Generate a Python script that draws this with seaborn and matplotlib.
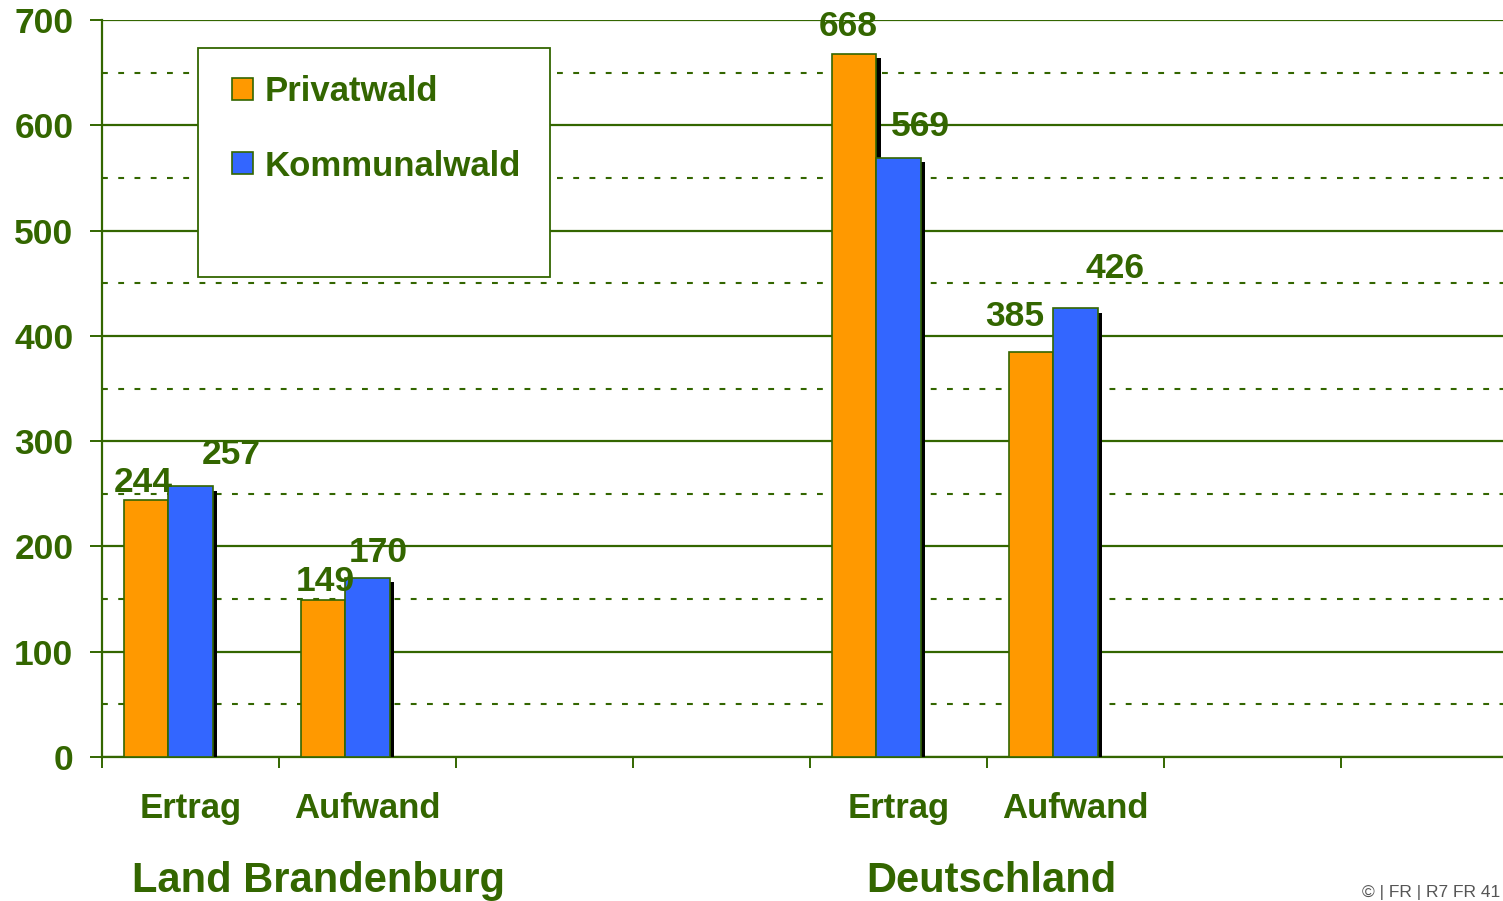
import pandas as pd
import numpy as np
import seaborn as sns
from matplotlib import pyplot as plt
from matplotlib import patheffects as pe
from matplotlib.patches import Patch, Rectangle
from matplotlib.ticker import MultipleLocator, FixedLocator

# slots on the x axis (Excel style, some left empty)
slots = ["LB_Ertrag", "LB_Aufwand", "e1", "e2", "DE_Ertrag", "DE_Aufwand", "e3", "e4"]
slot_labels = ["Ertrag", "Aufwand", "", "", "Ertrag", "Aufwand", "", ""]
series = ["Privatwald", "Kommunalwald", "Reihe3"]
privatwald = [244, 149, 668, 385]
kommunalwald = [257, 170, 569, 426]
filled = ["LB_Ertrag", "LB_Aufwand", "DE_Ertrag", "DE_Aufwand"]
groups = ["Land Brandenburg", "Deutschland"]
copyright_txt = "\u00a9 | FR | R7 FR 41"

green = "#336600"
colors = ["#FF9900", "#3366FF", "#999999"]

rows = []
for c, p, k in zip(filled, privatwald, kommunalwald):
    rows.append((c, "Privatwald", p))
    rows.append((c, "Kommunalwald", k))
    rows.append((c, "Reihe3", np.nan))
df = pd.DataFrame(rows, columns=["slot", "reihe", "wert"])

sns.set_style("white")
plt.rcParams["font.family"] = ["Liberation Sans", "DejaVu Sans"]
plt.rcParams["font.weight"] = "bold"

fig = plt.figure(figsize=(15.03, 9.01), dpi=100)
ax = fig.add_axes([102 / 1503, 1 - 757 / 901, 1 - 102 / 1503, 737 / 901])

sns.barplot(df, x="slot", y="wert", hue="reihe", order=slots, hue_order=series,
            palette=colors, width=0.75, saturation=1, legend=False, ax=ax,
            edgecolor=green, linewidth=1.2, errorbar=None)

shadow = [pe.SimplePatchShadow(offset=(3, -3), shadow_rgbFace="black", alpha=1.0), pe.Normal()]
for bar in ax.patches:
    bar.set_path_effects(shadow)
    bar.set_zorder(3)

# data labels, hand-nudged like in the original
lab_vals = [244, 149, 668, 385, 257, 170, 569, 426]
lab_dx = [-3, 2, -6, -17, 41, 11, 22, 40]
lab_dy = [8, 9, 18, 26, 22, 16, 22, 30]
bars = [b for b in ax.patches if b.get_height() > 0 and np.isfinite(b.get_height())]
for b, v, dx, dy in zip(bars, lab_vals, lab_dx, lab_dy):
    ax.annotate(str(v), (b.get_x() + b.get_width() / 2, b.get_height()),
                xytext=(dx, dy), textcoords="offset pixels", ha="center", va="baseline",
                fontsize=25.5, fontweight="bold", color=green, zorder=5)

ax.set_ylim(0, 700)
ax.set_xlim(-0.5, -0.5 + 1401 / 177)
ax.yaxis.set_major_locator(MultipleLocator(100))
ax.yaxis.set_minor_locator(MultipleLocator(50))
ax.grid(axis="y", which="major", color=green, linewidth=1.6, linestyle="-")
ax.grid(axis="y", which="minor", color=green, linewidth=1.5, linestyle=(0, (2.8, 5)))
ax.set_axisbelow(True)

ax.xaxis.set_major_locator(FixedLocator(np.arange(len(slots)) - 0.5))
ax.xaxis.set_minor_locator(FixedLocator(np.arange(len(slots))))
ax.set_xticklabels([""] * len(slots))
ax.set_xticklabels(slot_labels, minor=True)
ax.tick_params(axis="x", which="major", direction="out", length=8, width=1.4, color=green, bottom=True)
ax.tick_params(axis="x", which="minor", length=0, pad=25, labelsize=25, labelcolor=green)
ax.tick_params(axis="y", which="major", direction="out", length=8.6, width=1.4, color=green,
               left=True, pad=12, labelsize=25.5, labelcolor=green)
ax.tick_params(axis="y", which="minor", length=0)
for t in ax.get_xticklabels(minor=True) + ax.get_yticklabels():
    t.set_fontweight("bold")

ax.set_xlabel("")
ax.set_ylabel("")
sns.despine(ax=ax, top=True, right=True)
for s in ["left", "bottom"]:
    ax.spines[s].set_color(green)
    ax.spines[s].set_linewidth(1.6)

# legend box as in the original (room for an empty third entry)
box = Rectangle(((198 - 102) / 1401, 1 - (277 - 20) / 737), (550 - 198) / 1401, (277 - 48) / 737,
                transform=ax.transAxes, facecolor="white", edgecolor=green, linewidth=1.3, zorder=6)
ax.add_patch(box)

handles = [Patch(facecolor=colors[0], edgecolor=green, linewidth=1.2),
           Patch(facecolor=colors[1], edgecolor=green, linewidth=1.2)]
leg = ax.legend(handles, ["Privatwald", "Kommunalwald"], loc="upper left",
                bbox_to_anchor=((232 - 102) / 1401, 1 - (75 - 20) / 737), fontsize=25,
                frameon=False, borderpad=0, labelspacing=1.2,
                handlelength=0.6, handleheight=0.6, handletextpad=0.35,
                borderaxespad=0, labelcolor=green)
leg.set_zorder(7)
for t in leg.get_texts():
    t.set_fontweight("bold")

fig.text(319 / 1503, 1 - 892 / 901, groups[0], ha="center", va="baseline",
         fontsize=30, fontweight="bold", color=green)
fig.text(991 / 1503, 1 - 892 / 901, groups[1], ha="center", va="baseline",
         fontsize=30, fontweight="bold", color=green)
fig.text(1500 / 1503, 1 - 897 / 901, copyright_txt, ha="right", va="baseline",
         fontsize=12.5, fontweight="normal", color="#555555")

fig.savefig("out.png", dpi=100)
